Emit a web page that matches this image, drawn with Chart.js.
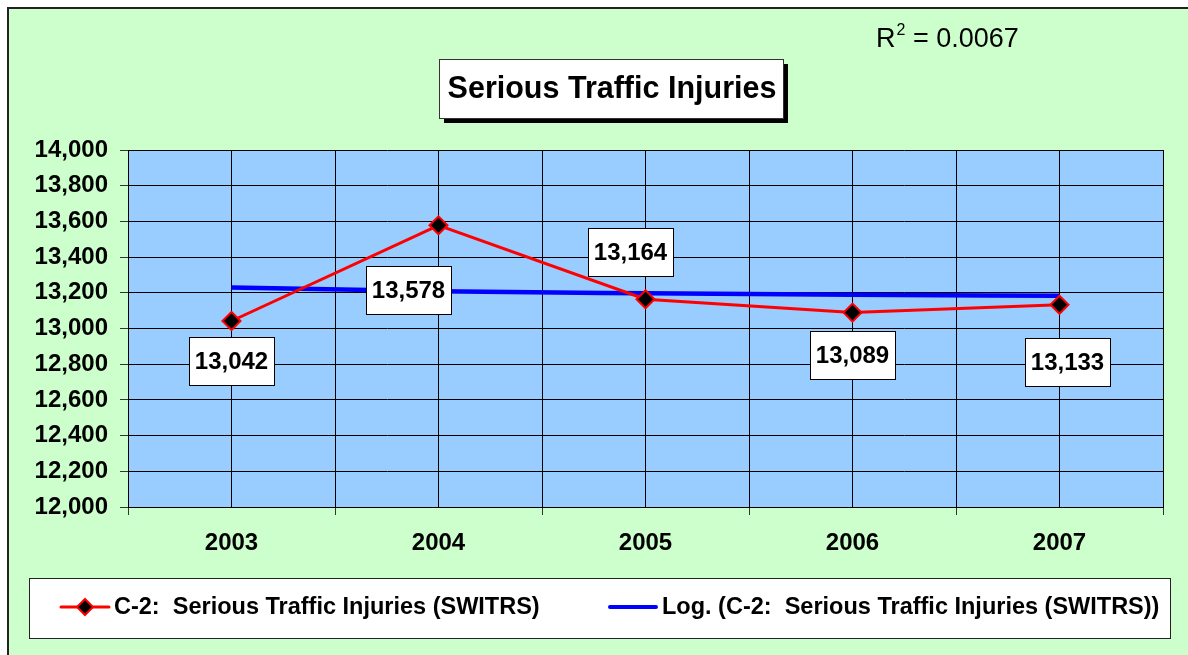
<!DOCTYPE html>
<html>
<head>
<meta charset="utf-8">
<title>Serious Traffic Injuries</title>
<script src="https://cdn.jsdelivr.net/npm/chart.js@4.4.1/dist/chart.umd.min.js"></script>
<style>
    html, body { margin: 0; padding: 0; background: #fff; }
    canvas { display: block; }
</style>
</head>
<body>
<canvas id="injuriesChart" width="1188" height="655"></canvas>
<script>
var years = [2003, 2004, 2005, 2006, 2007];
var injuries = [13042, 13578, 13164, 13089, 13133];
// log trendline, values
var logTrend = [13230, 13208, 13197, 13189, 13183];
var yRange = [12000, 14000];
var yStep = 200;
var rSquared = '0.0067';
var chartTitle = 'Serious Traffic Injuries';
var seriesName = 'C-2:  Serious Traffic Injuries (SWITRS)';
var trendName = 'Log. (C-2:  Serious Traffic Injuries (SWITRS))';

var FONT = '"Liberation Sans", Arial, sans-serif';
// where each value box sits relative to its point
var labelOffsets = [[0, 40], [-30, 65], [-15, -47], [0, 42], [8, 57]];

function fmt(v) {
    return Number(v).toLocaleString('en-US');
}

function isYear(v) {
    return Math.abs(v - Math.round(v)) < 1e-6;
}

function diamond(ctx, x, y, r) {
    ctx.beginPath();
    ctx.moveTo(x, y - r);
    ctx.lineTo(x + r, y);
    ctx.lineTo(x, y + r);
    ctx.lineTo(x - r, y);
    ctx.closePath();
    ctx.fillStyle = '#000';
    ctx.fill();
    ctx.strokeStyle = '#FF0000';
    ctx.lineWidth = 2;
    ctx.stroke();
}

// green chart area + blue plot area
var background = {
    id: 'background',
    beforeDraw: function(chart) {
        var ctx = chart.ctx;
        var a = chart.chartArea;
        ctx.save();
        ctx.fillStyle = '#fff';
        ctx.fillRect(0, 0, chart.width, chart.height);
        ctx.fillStyle = '#CCFFCC';
        ctx.fillRect(8, 8, chart.width, chart.height);
        ctx.strokeStyle = '#222';
        ctx.lineWidth = 2;
        ctx.strokeRect(8, 8, chart.width + 20, chart.height + 20);
        ctx.fillStyle = '#99CCFF';
        ctx.fillRect(a.left, a.top, a.right - a.left, a.bottom - a.top);
        ctx.restore();
    }
};

// white value boxes
var pointLabels = {
    id: 'pointLabels',
    afterDatasetsDraw: function(chart) {
        var ctx = chart.ctx;
        var meta = chart.getDatasetMeta(0);
        ctx.save();
        ctx.font = 'bold 24px ' + FONT;
        ctx.textAlign = 'center';
        ctx.textBaseline = 'middle';
        meta.data.forEach(function(pt, i) {
            var text = fmt(injuries[i]);
            var w = 85;
            var h = 48;
            var x0 = Math.round(pt.x + labelOffsets[i][0] - w / 2);
            var y0 = Math.round(pt.y + labelOffsets[i][1] - h / 2);
            ctx.fillStyle = '#fff';
            ctx.fillRect(x0, y0, w, h);
            ctx.strokeStyle = '#000';
            ctx.lineWidth = 1;
            ctx.strokeRect(x0 + 0.5, y0 + 0.5, w, h);
            ctx.fillStyle = '#000';
            ctx.fillText(text, x0 + w / 2, y0 + h / 2 + 1);
        });
        ctx.restore();
    }
};

// title box, R squared and legend
var decorations = {
    id: 'decorations',
    afterDraw: function(chart) {
        var ctx = chart.ctx;
        ctx.save();

        // title
        ctx.fillStyle = '#000';
        ctx.fillRect(444, 64, 344, 59);
        ctx.fillStyle = '#fff';
        ctx.fillRect(439, 59, 344, 59);
        ctx.strokeStyle = '#333';
        ctx.lineWidth = 1;
        ctx.strokeRect(439.5, 59.5, 344, 59);
        ctx.fillStyle = '#000';
        ctx.font = 'bold 30.5px ' + FONT;
        ctx.textAlign = 'center';
        ctx.textBaseline = 'middle';
        ctx.fillText(chartTitle, 612, 90);

        // R squared
        ctx.textAlign = 'left';
        ctx.textBaseline = 'alphabetic';
        ctx.font = '27px ' + FONT;
        ctx.fillText('R', 876, 47);
        var x = 876 + ctx.measureText('R').width + 1;
        ctx.font = '16px ' + FONT;
        ctx.fillText('2', x, 35);
        x += ctx.measureText('2').width;
        ctx.font = '27px ' + FONT;
        ctx.fillText(' = ' + rSquared, x, 47);

        // legend
        ctx.fillStyle = '#fff';
        ctx.fillRect(29, 578, 1141, 60);
        ctx.strokeStyle = '#222';
        ctx.strokeRect(29.5, 578.5, 1141, 60);
        ctx.lineCap = 'round';
        ctx.strokeStyle = '#FF0000';
        ctx.lineWidth = 3;
        ctx.beginPath();
        ctx.moveTo(61, 607);
        ctx.lineTo(109, 607);
        ctx.stroke();
        diamond(ctx, 85, 607, 8);
        ctx.strokeStyle = '#0000FF';
        ctx.lineWidth = 4;
        ctx.beginPath();
        ctx.moveTo(610, 607);
        ctx.lineTo(656, 607);
        ctx.stroke();
        ctx.fillStyle = '#000';
        ctx.font = 'bold 23.5px ' + FONT;
        ctx.textBaseline = 'middle';
        ctx.fillText(seriesName, 114, 608);
        ctx.fillText(trendName, 662, 608);

        ctx.restore();
    }
};

var tickFont = { family: FONT, size: 24, weight: 'bold' };

var ctx = document.getElementById('injuriesChart').getContext('2d');
new Chart(ctx, {
    type: 'line',
    data: {
        datasets: [{
            label: seriesName,
            data: years.map(function(yr, i) {
                return { x: yr, y: injuries[i] };
            }),
            borderColor: '#FF0000',
            borderWidth: 3,
            pointStyle: 'rectRot',
            pointRadius: 9,
            pointBackgroundColor: '#000',
            pointBorderColor: '#FF0000',
            pointBorderWidth: 2,
            order: 0
        }, {
            label: trendName,
            data: years.map(function(yr, i) {
                return { x: yr, y: logTrend[i] };
            }),
            borderColor: '#0000FF',
            borderWidth: 4.5,
            pointRadius: 0,
            cubicInterpolationMode: 'monotone',
            order: 1
        }]
    },
    options: {
        responsive: false,
        animation: false,
        layout: {
            padding: { left: 0, top: 150, right: 25, bottom: 88 }
        },
        plugins: {
            legend: { display: false },
            title: { display: false },
            tooltip: { enabled: false }
        },
        scales: {
            x: {
                type: 'linear',
                min: years[0] - 0.5,
                max: years[years.length - 1] + 0.5,
                afterFit: function(scale) { scale.height = 60; },
                ticks: {
                    stepSize: 0.5,
                    autoSkip: false,
                    maxRotation: 0,
                    padding: 14,
                    color: '#000',
                    font: tickFont,
                    callback: function(v) { return isYear(v) ? String(Math.round(v)) : ''; }
                },
                grid: {
                    color: '#000',
                    tickLength: 8,
                    tickColor: function(c) {
                        return c.tick && isYear(c.tick.value) ? 'rgba(0,0,0,0)' : '#333';
                    }
                },
                border: { color: '#000' }
            },
            y: {
                min: yRange[0],
                max: yRange[1],
                afterFit: function(scale) { scale.width = 128; },
                ticks: {
                    stepSize: yStep,
                    padding: 12,
                    color: '#000',
                    font: tickFont,
                    callback: function(v) { return fmt(v); }
                },
                grid: {
                    color: '#000',
                    tickLength: 8,
                    tickColor: '#333'
                },
                border: { color: '#000' }
            }
        }
    },
    plugins: [background, pointLabels, decorations]
});
</script>
</body>
</html>
